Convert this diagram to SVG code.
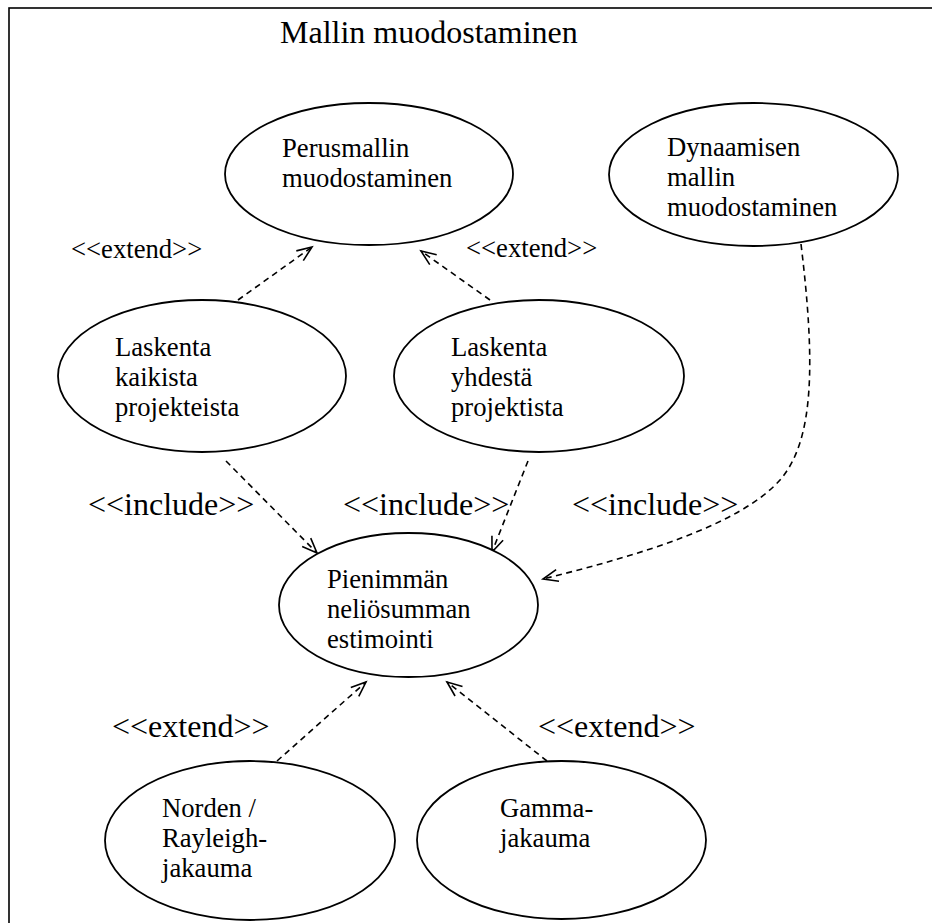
<svg xmlns="http://www.w3.org/2000/svg" width="932" height="923" viewBox="0 0 932 923">
  <style>
    text { font-family: "Liberation Serif", "Times New Roman", serif; fill: #000; }
    .title { font-size: 32px; }
    .node ellipse { fill: #fff; stroke: #000; stroke-width: 1.8; }
    .node text { font-size: 26.67px; }
    .lbl { font-size: 32px; }
    .lbl-s { font-size: 26.67px; }
    .dep { fill: none; stroke: #000; stroke-width: 1.6; stroke-dasharray: 6 4.5; marker-end: url(#open); }
  </style>
  <defs>
    <marker id="open" markerUnits="userSpaceOnUse" markerWidth="18" markerHeight="14" refX="16" refY="7" orient="auto" overflow="visible">
      <path d="M1,1 L16,7 L1,13" fill="none" stroke="#000" stroke-width="1.6" stroke-dasharray="none"/>
    </marker>
  </defs>

  <rect width="932" height="923" fill="#fff"/>

  <!-- system boundary -->
  <rect x="9" y="8" width="940" height="940" fill="none" stroke="#000" stroke-width="1.6"/>
  <text class="title" x="280" y="43">Mallin muodostaminen</text>

  <!-- connectors -->
  <g id="connectors">
    <line class="dep" x1="238" y1="300" x2="312" y2="247"/>
    <line class="dep" x1="490" y1="300" x2="421" y2="251"/>
    <line class="dep" x1="226" y1="461" x2="317" y2="553"/>
    <line class="dep" x1="528" y1="461" x2="492" y2="552"/>
    <path class="dep" d="M801,244 C815,360 815,440 780,480 C740,525 640,555 543,579"/>
    <line class="dep" x1="277" y1="761" x2="366" y2="682"/>
    <line class="dep" x1="547" y1="761" x2="447" y2="682"/>
  </g>

  <!-- relationship labels -->
  <g id="labels">
    <text class="lbl-s" x="71" y="258">&lt;&lt;extend&gt;&gt;</text>
    <text class="lbl-s" x="466" y="257">&lt;&lt;extend&gt;&gt;</text>
    <text class="lbl" x="88" y="515">&lt;&lt;include&gt;&gt;</text>
    <text class="lbl" x="343" y="515">&lt;&lt;include&gt;&gt;</text>
    <text class="lbl" x="572" y="515">&lt;&lt;include&gt;&gt;</text>
    <text class="lbl" x="112" y="737">&lt;&lt;extend&gt;&gt;</text>
    <text class="lbl" x="538" y="737">&lt;&lt;extend&gt;&gt;</text>
  </g>

  <!-- use cases -->
  <g id="perusmalli" class="node">
    <ellipse cx="369" cy="174" rx="144" ry="71"/>
    <text x="282" y="157">Perusmallin</text>
    <text x="282" y="187">muodostaminen</text>
  </g>
  <g id="dynaaminen" class="node">
    <ellipse cx="753.5" cy="174.5" rx="144.5" ry="71.5"/>
    <text x="667" y="156">Dynaamisen</text>
    <text x="667" y="186">mallin</text>
    <text x="667" y="216">muodostaminen</text>
  </g>
  <g id="kaikista" class="node">
    <ellipse cx="202" cy="376" rx="144" ry="76"/>
    <text x="115" y="356">Laskenta</text>
    <text x="115" y="386">kaikista</text>
    <text x="115" y="416">projekteista</text>
  </g>
  <g id="yhdesta" class="node">
    <ellipse cx="539" cy="376" rx="145" ry="76"/>
    <text x="451" y="356">Laskenta</text>
    <text x="451" y="386">yhdestä</text>
    <text x="451" y="416">projektista</text>
  </g>
  <g id="pns" class="node">
    <ellipse cx="408.5" cy="605" rx="129.5" ry="72"/>
    <text x="327" y="588">Pienimmän</text>
    <text x="327" y="618">neliösumman</text>
    <text x="327" y="648">estimointi</text>
  </g>
  <g id="rayleigh" class="node">
    <ellipse cx="250" cy="840.5" rx="145" ry="79.5"/>
    <text x="162" y="817">Norden /</text>
    <text x="162" y="847">Rayleigh-</text>
    <text x="162" y="877">jakauma</text>
  </g>
  <g id="gamma" class="node">
    <ellipse cx="561.5" cy="840" rx="144.5" ry="79"/>
    <text x="500" y="817">Gamma-</text>
    <text x="500" y="847">jakauma</text>
  </g>
</svg>
